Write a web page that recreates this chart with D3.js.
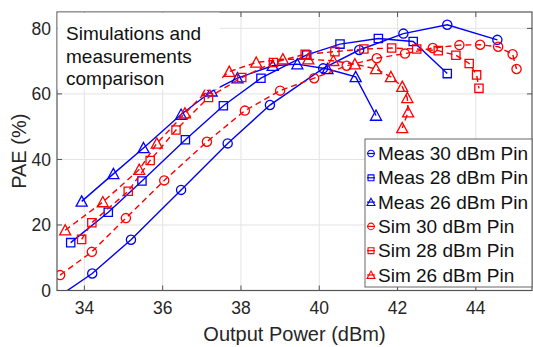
<!DOCTYPE html>
<html>
<head>
    <script src="https://cdnjs.cloudflare.com/ajax/libs/d3/7.8.5/d3.min.js"></script>
    <style>
        body { margin: 0; background: #fff; }
        svg { font-family: "Liberation Sans", Arial, Helvetica, sans-serif; }
        .grid line { stroke: #e3e3e3; stroke-width: 1; }
        .tick-label { font-size: 17.5px; fill: #262626; }
        .axis-title { font-size: 20px; fill: #262626; }
    </style>
</head>
<body>
    <div id="chart"></div>
    <script>
        const width = 533;
        const height = 347;

        // [Output power (dBm), PAE (%)]
        const meas30 = [[33.2,-3],[34.20,5.2],[35.19,15.5],[36.47,30.7],[37.66,44.9],[38.74,56.6],
            [40.10,67.8],[41.02,73.4],[42.15,78.4],[43.27,81.1],[44.55,76.5]];
        const meas28 = [[33.65,14.6],[34.61,23.9],[35.47,33.4],[36.58,46.0],[37.55,56.4],[38.51,64.8],
            [39.68,71.9],[40.53,75.2],[41.51,76.9],[42.40,76.0],[43.27,66.2]];
        const meas26 = [[33.93,27.2],[34.74,35.6],[35.51,43.5],[36.47,53.7],[37.25,60.8],[37.91,64.8],
            [38.81,68.6],[39.44,69.1],[40.21,67.6],[40.93,65.2],[41.45,53.4]];
        const sim30 = [[33.38,4.7],[34.19,11.8],[35.06,22.1],[36.04,33.6],[37.13,45.4],[38.10,54.9],
            [39.00,61.0],[39.87,64.8],[40.70,68.6],[41.47,70.9],[42.19,72.3],[42.90,74.0],[43.58,74.9],
            [44.11,75.0],[44.57,74.4],[44.94,72.1],[45.04,67.6]];
        const sim28 = [[33.93,15.6],[34.19,20.7],[35.12,30.3],[35.68,39.7],[36.34,49.0],[37.17,58.9],
            [38.02,65.0],[38.83,69.6],[39.64,72.1],[40.40,72.9],[41.14,73.7],[41.85,74.0],[42.49,73.7],
            [43.04,73.2],[43.49,71.8],[43.83,69.3],[44.02,65.8],[44.08,61.7]];
        const sim26 = [[33.51,18.4],[34.47,27.0],[35.40,36.9],[35.85,44.9],[36.57,54.1],[37.14,61.0],
            [37.70,66.8],[38.39,69.6],[39.07,70.6],[39.72,70.6],[40.36,70.1],[40.91,69.1],[41.45,67.6],
            [41.83,65.2],[42.12,62.2],[42.25,58.8],[42.27,54.4],[42.12,49.6]];

        const xTicks = [34, 36, 38, 40, 42, 44];
        const yTicks = [0, 20, 40, 60, 80];
        const legendLabels = ["Meas 30 dBm Pin", "Meas 28 dBm Pin", "Meas 26 dBm Pin",
            "Sim 30 dBm Pin", "Sim 28 dBm Pin", "Sim 26 dBm Pin"];
        const noteLines = ["Simulations and", "measurements", "comparison"];

        const series = [
            {data: meas30, color: "#0000ff", marker: "circle", dash: null},
            {data: meas28, color: "#0000ff", marker: "square", dash: null},
            {data: meas26, color: "#0000ff", marker: "triangle", dash: null},
            {data: sim30, color: "#ff0000", marker: "circle", dash: "6,4"},
            {data: sim28, color: "#ff0000", marker: "square", dash: "6,4"},
            {data: sim26, color: "#ff0000", marker: "triangle", dash: "6,4"}
        ];

        const pLeft = 57, pRight = 532, pTop = 12, pBottom = 290.5;

        const x = d3.scaleLinear().domain([33.3, 45.435]).range([pLeft, pRight]);
        const y = d3.scaleLinear().domain([0, 85]).range([pBottom, pTop]);

        const svg = d3.select("#chart").append("svg")
            .attr("width", width)
            .attr("height", height);

        svg.append("defs").append("clipPath").attr("id", "plot-clip")
            .append("rect")
            .attr("x", pLeft).attr("y", pTop)
            .attr("width", pRight - pLeft).attr("height", pBottom - pTop);

        // grid
        const grid = svg.append("g").attr("class", "grid");
        grid.selectAll(".gx").data(xTicks).enter().append("line")
            .attr("x1", d => x(d)).attr("x2", d => x(d))
            .attr("y1", pTop).attr("y2", pBottom);
        grid.selectAll(".gy").data(yTicks).enter().append("line")
            .attr("x1", pLeft).attr("x2", pRight)
            .attr("y1", d => y(d)).attr("y2", d => y(d));

        function markerPath(type, s) {
            if (type === "circle") return `M${s},0A${s},${s} 0 1,1 ${-s},0A${s},${s} 0 1,1 ${s},0Z`;
            if (type === "square") { const h = s * 0.9; return `M${-h},${-h}H${h}V${h}H${-h}Z`; }
            const w = s * 1.2;
            return `M0,${-w}L${w},${w * 0.85}L${-w},${w * 0.85}Z`;
        }

        const plot = svg.append("g").attr("clip-path", "url(#plot-clip)");
        const line = d3.line().x(d => x(d[0])).y(d => y(d[1]));

        series.forEach(s => {
            plot.append("path")
                .datum(s.data)
                .attr("d", line)
                .attr("fill", "none")
                .attr("stroke", s.color)
                .attr("stroke-width", 1.4)
                .attr("stroke-dasharray", s.dash);
            plot.selectAll(null).data(s.data).enter().append("path")
                .attr("transform", d => `translate(${x(d[0])},${y(d[1])})`)
                .attr("d", markerPath(s.marker, 4.6))
                .attr("fill", "none")
                .attr("stroke", s.color)
                .attr("stroke-width", 1.3);
        });

        // frame and ticks (inward, all sides)
        const axisColor = "#555";
        svg.append("rect")
            .attr("x", pLeft).attr("y", pTop)
            .attr("width", pRight - pLeft).attr("height", pBottom - pTop)
            .attr("fill", "none").attr("stroke", axisColor).attr("stroke-width", 1.2);
        const tl = 5;
        const ticks = svg.append("g").attr("stroke", axisColor).attr("stroke-width", 1);
        xTicks.forEach(t => {
            ticks.append("line").attr("x1", x(t)).attr("x2", x(t)).attr("y1", pBottom).attr("y2", pBottom - tl);
            ticks.append("line").attr("x1", x(t)).attr("x2", x(t)).attr("y1", pTop).attr("y2", pTop + tl);
        });
        yTicks.forEach(t => {
            ticks.append("line").attr("x1", pLeft).attr("x2", pLeft + tl).attr("y1", y(t)).attr("y2", y(t));
            ticks.append("line").attr("x1", pRight).attr("x2", pRight - tl).attr("y1", y(t)).attr("y2", y(t));
        });

        svg.selectAll(".xl").data(xTicks).enter().append("text")
            .attr("class", "tick-label")
            .attr("x", d => x(d)).attr("y", 314)
            .attr("text-anchor", "middle")
            .text(d => d);
        svg.selectAll(".yl").data(yTicks).enter().append("text")
            .attr("class", "tick-label")
            .attr("x", 51).attr("y", d => y(d))
            .attr("dy", "0.35em")
            .attr("text-anchor", "end")
            .text(d => d);

        svg.append("text").attr("class", "axis-title")
            .attr("x", (pLeft + pRight) / 2).attr("y", 341)
            .attr("text-anchor", "middle")
            .text("Output Power (dBm)");
        svg.append("text").attr("class", "axis-title")
            .attr("transform", `translate(26,${(pTop + pBottom) / 2}) rotate(-90)`)
            .attr("text-anchor", "middle")
            .text("PAE (%)");

        // annotation box
        svg.append("rect")
            .attr("x", pLeft + 0.6).attr("y", pTop + 0.6)
            .attr("width", 162).attr("height", 77)
            .attr("fill", "#fff");
        svg.selectAll(".note").data(noteLines).enter().append("text")
            .attr("x", 66).attr("y", (d, i) => 40 + i * 22.5)
            .attr("font-size", "19px").attr("fill", "#111")
            .text(d => d);

        // legend
        const lg = svg.append("g");
        lg.append("rect")
            .attr("x", 365).attr("y", 139)
            .attr("width", 167).attr("height", 148)
            .attr("fill", "#fff").attr("stroke", "#666").attr("stroke-width", 1);
        legendLabels.forEach((label, i) => {
            const s = series[i];
            const cy = 153.5 + i * 24.3;
            lg.append("line")
                .attr("x1", 367).attr("x2", 375).attr("y1", cy).attr("y2", cy)
                .attr("stroke", s.color).attr("stroke-width", 1.2);
            lg.append("path")
                .attr("transform", `translate(371,${cy})`)
                .attr("d", markerPath(s.marker, 3.3))
                .attr("fill", "none").attr("stroke", s.color).attr("stroke-width", 1.1);
            lg.append("text")
                .attr("x", 378).attr("y", cy)
                .attr("dy", "0.35em")
                .attr("font-size", "19px").attr("fill", "#111")
                .text(label);
        });
    </script>
</body>
</html>
